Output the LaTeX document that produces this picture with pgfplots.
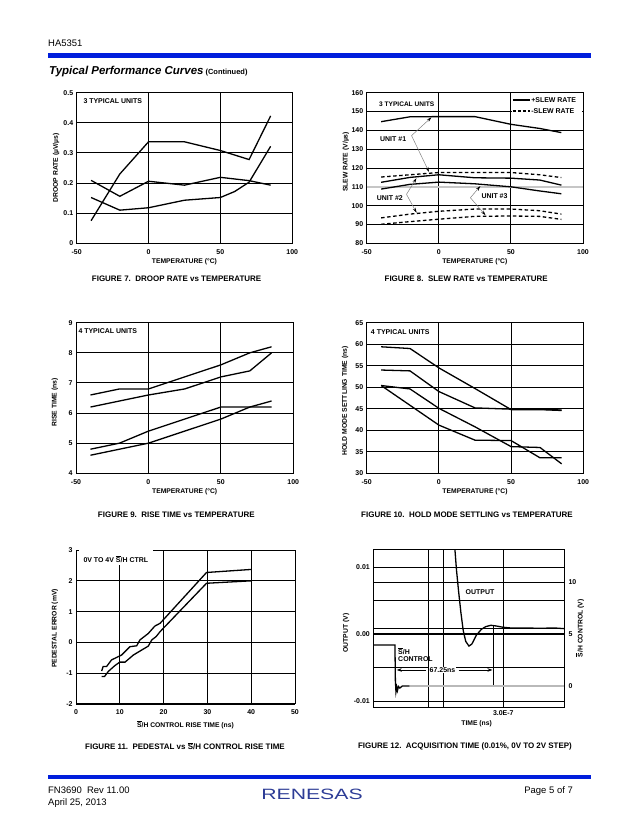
\documentclass[border=0pt]{standalone}
\usepackage{fontspec}
\setmainfont{Liberation Sans}
\usepackage{pgfplots}
\pgfplotsset{compat=1.18}
\usetikzlibrary{arrows.meta}

\definecolor{dsblue}{RGB}{0,30,220}
\definecolor{logoblue}{RGB}{45,60,150}

\newcommand\tk{\fontsize{7}{8}\selectfont\bfseries}
\newcommand\lb{\fontsize{6.8}{8}\selectfont\bfseries}
\newcommand\cp{\fontsize{8}{9.6}\selectfont\bfseries}
\newcommand\Sb{$\overline{\mbox{S}}$}

\pgfplotsset{
  ds/.style={
    scale only axis, anchor=south west,
    axis line style={line width=1bp},
    grid=major,
    major grid style={black, line width=0.9bp},
    major tick length=0pt,
    scaled ticks=false,
    tick label style={font=\tk},
    xticklabel style={yshift=-2.5bp},
    label style={font=\lb},
  },
  curve/.style={black, line width=1.3bp, mark=none},
}
\tikzset{
  inlab/.style={font=\tk, anchor=west, inner sep=0pt},
  ann/.style={gray, line width=0.5bp, -{Stealth[black,length=5bp,width=3bp]}},
}

\begin{document}
\begin{tikzpicture}
\path[use as bounding box] (0,0) rectangle (640bp,830bp);

% header
\node[anchor=base west, inner sep=0pt, font=\fontsize{9.5}{11}\selectfont] at (48bp,783bp) {HA5351};
\fill[dsblue] (48bp,772bp) rectangle (591bp,776.5bp);
\node[anchor=base west, inner sep=0pt] at (49bp,755bp)
  {\fontsize{11.5}{13}\selectfont\bfseries\itshape Typical Performance Curves\fontsize{7.5}{9}\selectfont\upshape\ (Continued)};

% ---------- FIGURE 7 ----------
\begin{axis}[ds, at={(76.7bp,586.7bp)}, width=215.5bp, height=150.6bp,
  xmin=-50, xmax=100, ymin=0, ymax=0.5,
  xtick={-50,0,50,100}, xticklabels={-50,0,50,100},
  ytick={0,0.1,0.2,0.3,0.4,0.5}, yticklabels={0,0.1,0.2,0.3,0.4,0.5},
  xlabel={TEMPERATURE (°C)}, ylabel={DROOP RATE (µV/µs)},
  xlabel style={at={(axis description cs:0.5,-0.122)}, anchor=center},
  ylabel style={at={(axis description cs:-0.096,0.5)}, anchor=center}]
\addplot[curve] coordinates {(-40,0.075) (-20,0.23) (0,0.337) (25,0.337) (50,0.308) (70,0.278) (85,0.423)};
\addplot[curve] coordinates {(-40,0.209) (-20,0.156) (0,0.206) (25,0.193) (50,0.219) (70,0.208) (85,0.193)};
\addplot[curve] coordinates {(-40,0.152) (-20,0.110) (0,0.118) (25,0.143) (50,0.152) (60,0.172) (70,0.203) (85,0.322)};
\node[inlab] at (axis cs:-45.4,0.473) {3 TYPICAL UNITS};
\end{axis}
\node[font=\cp] at (176.6bp,551bp) {FIGURE 7.\ \ DROOP RATE vs TEMPERATURE};

% ---------- FIGURE 8 ----------
\begin{axis}[ds, at={(366.7bp,586.7bp)}, width=216.3bp, height=150.6bp,
  xmin=-50, xmax=100, ymin=80, ymax=160,
  xtick={-50,0,50,100}, xticklabels={-50,0,50,100},
  ytick={80,90,100,120,130,140,150,160}, yticklabels={80,90,100,120,130,140,150,160},
  extra y ticks={110}, extra y tick labels={110},
  extra y tick style={major grid style={gray!45, line width=1.4bp}},
  xlabel={TEMPERATURE (°C)}, ylabel={SLEW RATE (V/µs)},
  xlabel style={at={(axis description cs:0.5,-0.122)}, anchor=center},
  ylabel style={at={(axis description cs:-0.096,0.54)}, anchor=center}]
% +slew rate
\addplot[curve] coordinates {(-40,144.6) (-20,147.2) (0,147.3) (25,147.3) (50,143.2) (70,141.0) (85,138.8)};
\addplot[curve] coordinates {(-40,112.4) (-20,115.0) (0,116.4) (25,114.8) (50,114.6) (70,113.6) (85,110.9)};
\addplot[curve] coordinates {(-40,108.8) (-20,111.3) (0,112.5) (25,111.6) (50,110.0) (70,107.8) (85,106.3)};
% -slew rate
\addplot[curve, dash pattern=on 3.5bp off 2.5bp] coordinates {(-40,115.2) (-20,116.4) (0,117.6) (25,117.6) (50,117.6) (70,116.4) (85,114.9)};
\addplot[curve, dash pattern=on 3.5bp off 2.5bp] coordinates {(-40,93.5) (-20,95.5) (0,97.0) (25,98.2) (50,98.2) (70,97.3) (85,95.5)};
\addplot[curve, dash pattern=on 3.5bp off 2.5bp] coordinates {(-40,90.1) (-20,91.5) (0,92.8) (25,94.3) (50,94.5) (70,94.3) (85,92.7)};
\node[inlab, font=\fontsize{6.6}{8}\selectfont\bfseries] at (axis cs:-41.5,154) {3 TYPICAL UNITS};
% legend
\fill[white] (axis cs:50.7,148.4) rectangle (axis cs:99.5,159.7);
\draw[line width=1.5bp] (axis cs:51.3,156.1) -- (axis cs:62.9,156.1);
\draw[line width=1.5bp, dash pattern=on 3bp off 2bp] (axis cs:51.3,150.4) -- (axis cs:62.9,150.4);
\node[inlab] at (axis cs:64,156.1) {+SLEW RATE};
\node[inlab] at (axis cs:64,150.4) {-SLEW RATE};
% unit annotations
\node[inlab] at (axis cs:-40.8,135.2) {UNIT \#1};
\draw[ann] (axis cs:-18.9,137.2) -- (axis cs:-5.1,146.9);
\draw[ann] (axis cs:-18.9,137.2) -- (axis cs:-6.8,117.9);
\node[inlab] at (axis cs:-43.1,104.2) {UNIT \#2};
\draw[ann] (axis cs:-22.4,106) -- (axis cs:-15.5,114.6);
\draw[ann] (axis cs:-22.4,106) -- (axis cs:-15.4,96.2);
\node[inlab] at (axis cs:29.5,105.1) {UNIT \#3};
\draw[ann] (axis cs:21.9,104.2) -- (axis cs:28.8,110.4);
\draw[ann] (axis cs:21.9,104.2) -- (axis cs:32.4,94.9);
\end{axis}
\node[font=\cp] at (466.2bp,551bp) {FIGURE 8.\ \ SLEW RATE vs TEMPERATURE};

% ---------- FIGURE 9 ----------
\begin{axis}[ds, at={(76bp,356.7bp)}, width=217.3bp, height=150.6bp,
  xmin=-50, xmax=100, ymin=4, ymax=9,
  xtick={-50,0,50,100}, xticklabels={-50,0,50,100},
  ytick={4,5,6,7,8,9}, yticklabels={4,5,6,7,8,9},
  xlabel={TEMPERATURE (°C)}, ylabel={RISE TIME (ns)},
  xlabel style={at={(axis description cs:0.5,-0.122)}, anchor=center},
  ylabel style={at={(axis description cs:-0.097,0.47)}, anchor=center}]
\addplot[curve] coordinates {(-40,6.6) (-20,6.8) (0,6.8) (25,7.2) (50,7.6) (70,8.0) (85,8.2)};
\addplot[curve] coordinates {(-40,6.2) (-20,6.4) (0,6.6) (25,6.8) (50,7.2) (70,7.4) (85,8.0)};
\addplot[curve] coordinates {(-40,4.8) (-20,5.0) (0,5.4) (25,5.8) (50,6.2) (70,6.2) (85,6.2)};
\addplot[curve] coordinates {(-40,4.6) (-20,4.8) (0,5.0) (25,5.4) (50,5.8) (70,6.2) (85,6.4)};
\node[inlab] at (axis cs:-48.4,8.73) {4 TYPICAL UNITS};
\end{axis}
\node[font=\cp] at (176.3bp,315.1bp) {FIGURE 9.\ \ RISE TIME vs TEMPERATURE};

% ---------- FIGURE 10 ----------
\begin{axis}[ds, at={(366.7bp,356.7bp)}, width=216.6bp, height=150.6bp,
  xmin=-50, xmax=100, ymin=30, ymax=65,
  xtick={-50,0,50,100}, xticklabels={-50,0,50,100},
  ytick={30,35,40,45,50,55,60,65}, yticklabels={30,35,40,45,50,55,60,65},
  xlabel={TEMPERATURE (°C)}, ylabel={HOLD MODE SETTLING TIME (ns)},
  xlabel style={at={(axis description cs:0.5,-0.122)}, anchor=center},
  ylabel style={at={(axis description cs:-0.1,0.48)}, anchor=center}]
\addplot[curve] coordinates {(-40,59.4) (-20,59.0) (0,54.5) (25,49.7) (50,44.8) (70,44.8) (85,44.6)};
\addplot[curve] coordinates {(-40,54.0) (-20,53.8) (0,49.0) (25,45.2) (50,44.9) (70,44.9) (85,44.7)};
\addplot[curve] coordinates {(-40,50.4) (-20,49.6) (0,45.1) (25,40.8) (50,36.2) (70,36.0) (85,32.2)};
\addplot[curve] coordinates {(-40,50.4) (-20,45.8) (0,41.2) (25,37.7) (50,37.6) (70,33.6) (85,33.6)};
\node[inlab] at (axis cs:-47.2,62.9) {4 TYPICAL UNITS};
\end{axis}
\node[font=\cp] at (467bp,315.1bp) {FIGURE 10.\ \ HOLD MODE SETTLING vs TEMPERATURE};

% ---------- FIGURE 11 ----------
\begin{axis}[ds, at={(76bp,126bp)}, width=219bp, height=154bp,
  xmin=0, xmax=50, ymin=-2, ymax=3,
  xtick={0,10,20,30,40,50}, xticklabels={0,10,20,30,40,50},
  ytick={-2,-1,0,1,2,3}, yticklabels={-2,-1,0,1,2,3},
  xlabel={\Sb/H CONTROL RISE TIME (ns)}, ylabel={PEDESTAL ERROR (mV)},
  xlabel style={at={(axis description cs:0.5,-0.136)}, anchor=center},
  ylabel style={at={(axis description cs:-0.096,0.49)}, anchor=center}]
\addplot[curve] coordinates {(5.86,-0.93) (6.2,-0.78) (7.0,-0.78) (8.1,-0.57) (10.4,-0.41)
  (12.3,-0.14) (13.85,-0.11) (14.6,0.08) (16.5,0.29) (18.0,0.53) (19.2,0.62) (29.8,2.27) (40.1,2.37)};
\addplot[curve] coordinates {(5.86,-1.11) (6.5,-1.11) (7.4,-0.94) (8.9,-0.75) (10.0,-0.64)
  (11.2,-0.64) (13.1,-0.41) (16.5,-0.12) (17.3,0.08) (18.3,0.19) (19.2,0.35) (29.8,1.92) (40.1,2.0)};
\fill[white] (axis cs:0.6,2.5) rectangle (axis cs:17.6,2.985);
\node[inlab] at (axis cs:1.67,2.71) {0V TO 4V \Sb/H CTRL};
\end{axis}
\node[font=\cp] at (185bp,84bp) {FIGURE 11.\ \ PEDESTAL vs \Sb/H CONTROL RISE TIME};

% ---------- FIGURE 12 ----------
\begin{axis}[ds, at={(373.3bp,122.7bp)}, width=190.7bp, height=158bp,
  xmin=211.1, xmax=341.5, ymin=-0.01094, ymax=0.01264,
  xtick={248.7,259.2,300}, xticklabels={,,3.0E-7},
  xticklabel style={yshift=2.5bp},
  ytick={-0.01,-0.005,0,0.00085,0.005,0.01}, yticklabels={-0.01,,0.00,,,0.01},
  extra y ticks={0}, extra y tick labels={},
  extra y tick style={major grid style={black, line width=2.6bp}},
  xlabel={TIME (ns)}, ylabel={OUTPUT (V)},
  xlabel style={at={(axis description cs:0.542,-0.106)}, anchor=center},
  ylabel style={at={(axis description cs:-0.143,0.47)}, anchor=center}]
\addplot[curve] coordinates {(266.6,0.0135) (268,0.0095) (269.5,0.0062) (271,0.0032) (272.6,0.0005)
  (274.3,-0.0011) (276.5,-0.0018) (278.5,-0.0015) (281.5,-0.0002) (285,0.0007) (288,0.0011)
  (291.5,0.0013) (295,0.0012) (300,0.0010) (305,0.0009) (315,0.0009) (325,0.00085) (335,0.0009) (341.5,0.0008)};
\addplot[black, line width=0.9bp] coordinates {(293.2,0.0013) (293.2,-0.0078)};
\node[font=\tk] at (axis cs:284.1,0.0063) {OUTPUT};
\node[inlab] at (axis cs:228,-0.0026) {\Sb/H};
\node[inlab] at (axis cs:228,-0.0038) {CONTROL};
\node[font=\tk, fill=white, inner sep=0.6bp] at (axis cs:258.4,-0.00537) {67.25ns};
\draw[line width=0.9bp, -{Stealth[length=5bp,width=3.5bp]}] (axis cs:247.3,-0.00537) -- (axis cs:227.1,-0.00537);
\draw[line width=0.9bp, -{Stealth[length=5bp,width=3.5bp]}] (axis cs:269.5,-0.00537) -- (axis cs:292.6,-0.00537);
\end{axis}
\begin{axis}[ds, at={(373.3bp,122.7bp)}, width=190.7bp, height=158bp,
  xmin=211.1, xmax=341.5, ymin=-2.05, ymax=13.14,
  axis x line=none, axis y line*=right, xmajorgrids=false,
  ytick={10}, yticklabels={10},
  extra y ticks={0,5}, extra y tick labels={0,5},
  extra y tick style={grid=none},
  yticklabel style={xshift=1bp},
  ylabel={\Sb/H CONTROL (V)},
  ylabel style={at={(axis description cs:1.084,0.5)}, anchor=center}]
\addplot[curve] coordinates {(211.1,3.94) (225.9,3.94) (226.2,0.5) (226.6,-0.55) (227.1,-0.1)
  (227.6,-0.45) (228.3,-0.05) (229.2,-0.2) (231,0) (236,0)};
\addplot[curve, gray!55] coordinates {(236,0) (341.5,0)};
\end{axis}
\node[font=\cp] at (465bp,84bp) {FIGURE 12.\ \ ACQUISITION TIME (0.01\%, 0V TO 2V STEP)};

% footer
\fill[dsblue] (48bp,50.5bp) rectangle (591bp,55bp);
\node[anchor=base west, inner sep=0pt, font=\fontsize{9.5}{11}\selectfont] at (48bp,37bp) {FN3690 \ Rev 11.00};
\node[anchor=base west, inner sep=0pt, font=\fontsize{9.5}{11}\selectfont] at (48bp,25bp) {April 25, 2013};
\node[anchor=base east, inner sep=0pt, font=\fontsize{9.5}{11}\selectfont] at (573bp,37bp) {Page 5 of 7};
\node[logoblue, inner sep=0pt, font=\fontsize{15}{16}\selectfont, xscale=1.42] at (312bp,36bp) {RENESAS};
\end{tikzpicture}
\end{document}
